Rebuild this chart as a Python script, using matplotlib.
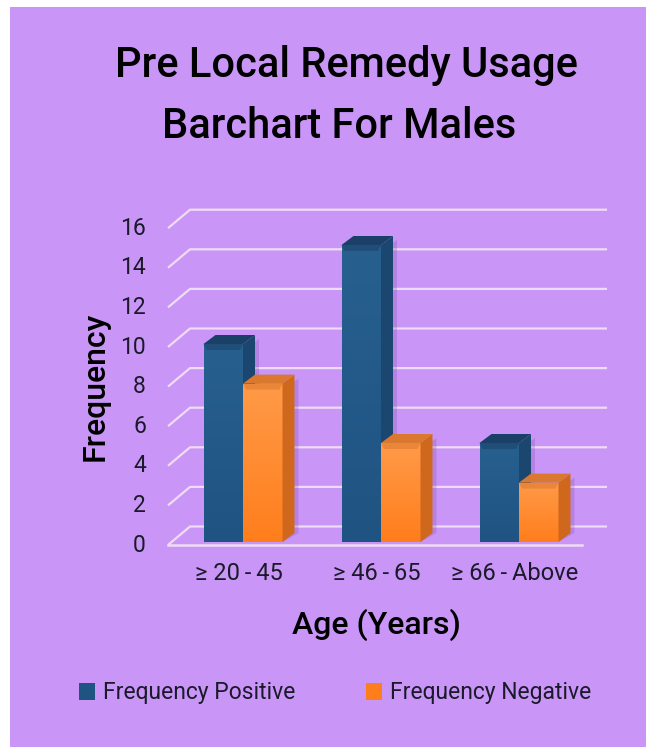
import numpy as np
import matplotlib.pyplot as plt
from matplotlib.patches import Polygon, Patch
from matplotlib.colors import LinearSegmentedColormap

categories = ["\u2265 20\u2009-\u200945", "\u2265 46\u2009-\u200965", "\u2265 66\u2009-\u2009Above"]
positive = [10, 15, 5]
negative = [8, 5, 3]
yticks = [0, 2, 4, 6, 8, 10, 12, 14, 16]

BG = "#c996f8"
GRID = "#efdcf2"
BLUE = dict(front_top="#27608f", front_bot="#1f5382", top="#1a4068", side="#1b466f")
ORANGE = dict(front_top="#ff9a48", front_bot="#ff7e1c", top="#d9782e", side="#cf671c")

plt.rcParams['font.family'] = ['Roboto', 'DejaVu Sans']

W, H = 646, 747
fig = plt.figure(figsize=(W / 100, H / 100), dpi=100)
fig.patch.set_facecolor(BG)
# thin white margin on the left and top
fig.add_artist(plt.Rectangle((0, 0), 10 / W, 1, transform=fig.transFigure,
                             facecolor="white", edgecolor="none", zorder=-10))
fig.add_artist(plt.Rectangle((0, 1 - 7 / H), 1, 7 / H, transform=fig.transFigure,
                             facecolor="white", edgecolor="none", zorder=-10))


def fx(px):
    return px / W


def fy(py):
    return 1 - py / H


# axes box in pixels: x 150..620, y(top) 200..560
ax_l, ax_r, ax_t, ax_b = 150, 620, 200, 560
ax = fig.add_axes([fx(ax_l), fy(ax_b), (ax_r - ax_l) / W, (ax_b - ax_t) / H])
ax.set_facecolor("none")
for s in ax.spines.values():
    s.set_visible(False)

px_x = 138.0   # pixels per category
px_y = 19.8    # pixels per unit
x0_px, y0_px = 243, 542
ax.set_xlim(-(x0_px - ax_l) / px_x, (ax_r - x0_px) / px_x)
ax.set_ylim(-(ax_b - y0_px) / px_y, (y0_px - ax_t) / px_y)
ax.set_xticks([])
ax.set_yticks([])


def dx(p):
    return p / px_x


def dy(p):
    return p / px_y


# back wall gridlines with a slanted left edge, floor front edge
x_front = dx(168 - x0_px)
x_back = dx(190 - x0_px)
x_end = dx(607 - x0_px)
for v in yticks:
    yf = v - dy(3)
    yb = v + dy(15.5)
    ax.plot([x_front, x_back, x_end], [yf, yb, yb], color=GRID, lw=1.6,
            solid_capstyle="butt", zorder=1)
    ax.text(dx(146 - x0_px), yf, str(v), ha="right", va="center",
            fontsize=16.5, color="#1a1a2a")
ax.plot([x_front, dx(582 - x0_px)], [-dy(3), -dy(3)], color=GRID, lw=1.8, zorder=1)

bar_w = dx(39.5)
depth_x, depth_y = dx(12), dy(9)


def draw_bar(xl, val, col):
    xr = xl + bar_w
    # soft shadow
    ax.add_patch(Polygon([(xr, 0), (xr + depth_x + dx(4), depth_y), (xr + depth_x + dx(4), val + depth_y - dy(4)),
                          (xr + dx(3), val - dy(4)), (xr, 0)],
                         closed=True, facecolor="#7a4aa8", alpha=0.25, edgecolor="none", zorder=2))
    # front face with a vertical gradient
    grad = np.linspace(0, 1, 64).reshape(-1, 1)
    cmap = LinearSegmentedColormap.from_list("g", [col["front_bot"], col["front_top"]])
    im = ax.imshow(grad, extent=[xl, xr, 0, val], origin="lower", aspect="auto",
                   cmap=cmap, zorder=3)
    face = Polygon([(xl, 0), (xr, 0), (xr, val), (xl, val)], closed=True,
                   facecolor="none", edgecolor="none", zorder=3)
    ax.add_patch(face)
    im.set_clip_path(face)
    # darker bevel just under the top edge
    ax.add_patch(Polygon([(xl, val), (xr, val), (xr - dx(3), val - dy(6)), (xl + dx(3), val - dy(6))],
                         closed=True, facecolor=col["top"], alpha=0.55, edgecolor="none", zorder=4))
    # side face
    ax.add_patch(Polygon([(xr, 0), (xr + depth_x, depth_y), (xr + depth_x, val + depth_y), (xr, val)],
                         closed=True, facecolor=col["side"], edgecolor="none", zorder=3))
    # top face
    ax.add_patch(Polygon([(xl, val), (xl + depth_x, val + depth_y), (xr + depth_x, val + depth_y), (xr, val)],
                         closed=True, facecolor=col["top"], edgecolor="none", zorder=3))


for i in range(len(categories)):
    draw_bar(i - bar_w, positive[i], BLUE)
    draw_bar(i, negative[i], ORANGE)
    ax.text(i - dx(4), -dy(32), categories[i], ha="center", va="center",
            fontsize=17, color="#1a1a2a")

fig.text(fx(346), fy(65), "Pre Local Remedy Usage", ha="center", va="center",
         fontsize=30, fontweight="medium", color="black")
fig.text(fx(339), fy(126), "Barchart For Males", ha="center", va="center",
         fontsize=30, fontweight="medium", color="black")
fig.text(fx(95), fy(386), "Frequency", ha="center", va="center", rotation=90,
         fontsize=23, fontweight="medium", color="black")
fig.text(fx(376), fy(625), "Age (Years)", ha="center", va="center",
         fontsize=23, fontweight="medium", color="black")

handles = [Patch(facecolor=BLUE["front_bot"], label="Frequency Positive"),
           Patch(facecolor=ORANGE["front_bot"], label="Frequency Negative")]
fig.legend(handles=handles, loc="center", bbox_to_anchor=(fx(335), fy(693)), ncol=2,
           frameon=False, fontsize=16.5, handlelength=0.7, handleheight=0.7,
           handletextpad=0.35, columnspacing=3.1, labelcolor="#1a1a2a")

fig.savefig("out.png", dpi=100, facecolor=fig.get_facecolor())
